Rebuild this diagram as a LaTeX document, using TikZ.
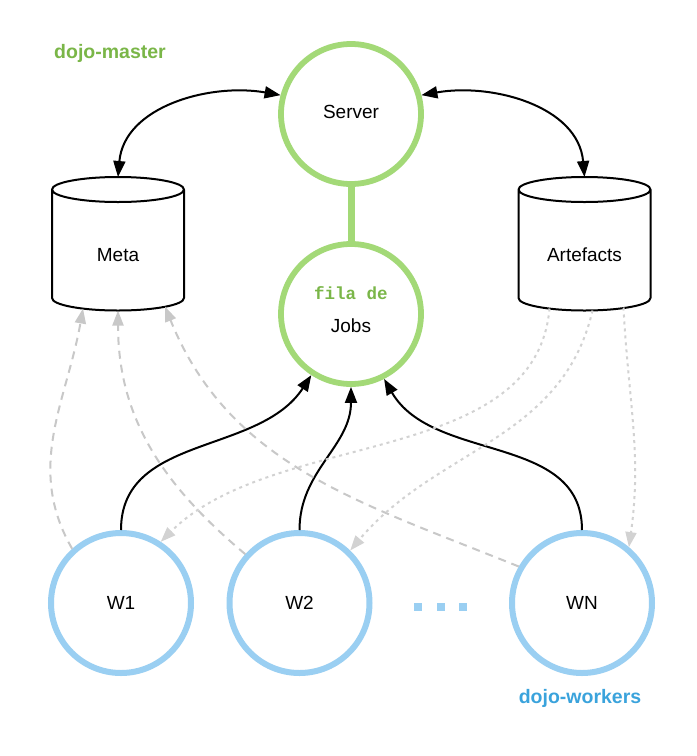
\documentclass[tikz,border=0pt]{standalone}
\usepackage{fontspec}
\setmainfont{Liberation Sans}
\newfontfamily\monob{Liberation Mono}
\usetikzlibrary{arrows.meta}
\definecolor{mgreen}{HTML}{A3D977}
\definecolor{tgreen}{HTML}{7AB648}
\definecolor{mblue}{HTML}{9ACFF2}
\definecolor{tblue}{HTML}{3AA3DC}
\definecolor{dgray}{HTML}{C8C8C8}
\definecolor{lgray}{HTML}{D2D2D2}
\begin{document}
\begin{tikzpicture}[x=1pt,y=1pt,
 txt/.style={font=\fontsize{19}{22}\selectfont},
 master/.style={txt, circle, draw=mgreen, line width=5.8pt, minimum size=140pt, inner sep=0pt, fill=white},
 worker/.style={txt, circle, draw=mblue, line width=6pt, minimum size=140pt, inner sep=0pt, fill=white},
 store/.style={txt, rectangle, minimum width=132pt, minimum height=133.5pt, inner sep=0pt, outer sep=0pt, text height=40pt, text depth=4pt},
 cylline/.style={line width=2pt, black, line join=round},
 flow/.style={line width=2pt, -{Triangle[length=16pt,width=12pt]}},
 twoway/.style={line width=2pt, {Triangle[length=16pt,width=12pt]}-{Triangle[length=16pt,width=12pt]}},
 reads/.style={line width=2pt, dgray, dash pattern=on 8pt off 6pt, -{Triangle[length=15pt,width=11pt]}},
 writes/.style={line width=2pt, lgray, dash pattern=on 3pt off 4pt, -{Triangle[length=15pt,width=11pt]}},
 grouplabel/.style={font=\bfseries\fontsize{19.5}{22}\selectfont},
 dotsq/.style={fill=mblue}
]
\useasboundingbox (0,0) rectangle (697,-756);
\fill[white] (0,0) rectangle (697,-756);

% group labels
\node[grouplabel, text=tgreen] (lmaster) at (110,-53) {dojo-master};
\node[grouplabel, text=tblue] (lworkers) at (580,-698) {dojo-workers};

% master nodes
\node[master, text height=9pt, text depth=0pt] (Server) at (351,-114) {Server};
\node[master, text height=46pt, text depth=10pt] (Jobs) at (351,-314)
  {\begin{tabular}[b]{@{}c@{}}{\monob\bfseries\color{tgreen}\fontsize{17.5}{20}\selectfont fila de}\\[11pt]Jobs\end{tabular}};
\draw[mgreen, line width=7pt] (Server.south) -- (Jobs.north);

% stores
\node[store] (Meta) at (118,-243.75) {Meta};
\node[store] (Art) at (584.5,-243.75) {Artefacts};
\foreach \s in {Meta,Art}{
  \draw[cylline] ([yshift=-12.5pt]\s.north west) -- ([yshift=12.5pt]\s.south west)
    arc[start angle=180, end angle=360, x radius=66pt, y radius=12.5pt]
    -- ([yshift=-12.5pt]\s.north east)
    arc[start angle=0, end angle=360, x radius=66pt, y radius=12.5pt];
}

% workers
\node[worker] (W1) at (121,-603) {W1};
\node[worker] (W2) at (299.5,-603) {W2};
\node[worker] (WN) at (582,-603) {WN};
\fill[dotsq] (414,-603) rectangle (422,-611);
\fill[dotsq] (436.5,-603) rectangle (444.5,-611);
\fill[dotsq] (459,-603) rectangle (467,-611);

% server <-> stores
\draw[twoway] (Meta.north) to[out=85,in=170] (Server.165);
\draw[twoway] (Server.15) to[out=10,in=95] (Art.north);

% workers -> jobs
\draw[flow] (W1.north) to[out=90,in=237] (Jobs.237);
\draw[flow] (W2.north) to[out=90,in=270] (Jobs.270);
\draw[flow] (WN.north) to[out=90,in=300] (Jobs.297);

% workers read meta
\draw[reads] (W1.132) to[out=120,in=260] ([xshift=-35pt,yshift=2pt]Meta.south);
\draw[reads] (W2.138) to[out=140,in=270] (Meta.south);
\draw[reads] (WN.150) to[out=158,in=292] ([xshift=47pt,yshift=4pt]Meta.south);

% artefacts to workers
\draw[writes] ([xshift=-35pt,yshift=2pt]Art.south) to[out=265,in=45,looseness=0.9] (W1.57);
\draw[writes] ([xshift=8pt]Art.south) to[out=257,in=50] (W2.46);
\draw[writes] ([xshift=39pt,yshift=3pt]Art.south) to[out=-87,in=82] (WN.50);
\end{tikzpicture}
\end{document}
